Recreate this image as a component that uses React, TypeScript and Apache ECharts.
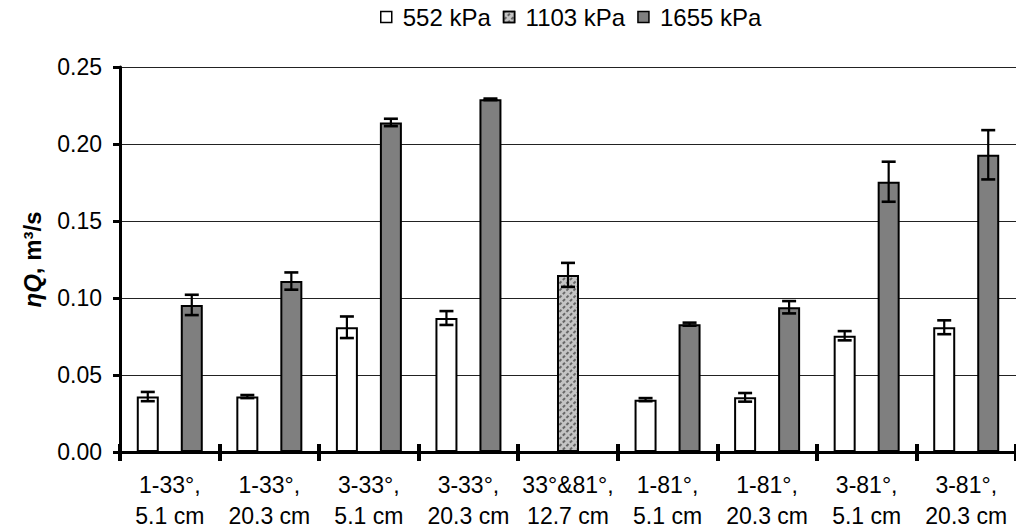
import React, { useEffect, useRef } from "react";
import * as echarts from "echarts";

const categories = [
  "1-33°,\n5.1 cm",
  "1-33°,\n20.3 cm",
  "3-33°,\n5.1 cm",
  "3-33°,\n20.3 cm",
  "33°&81°,\n12.7 cm",
  "1-81°,\n5.1 cm",
  "1-81°,\n20.3 cm",
  "3-81°,\n5.1 cm",
  "3-81°,\n20.3 cm",
];
const seriesNames = ["552 kPa", "1103 kPa", "1655 kPa"];
const v552 = [0.036, 0.036, 0.081, 0.087, null, 0.034, 0.0355, 0.0755, 0.081];
const e552 = [0.003, 0.001, 0.007, 0.0045, null, 0.001, 0.0028, 0.003, 0.0045];
const v1103 = [null, null, null, null, 0.115, null, null, null, null];
const e1103 = [null, null, null, null, 0.0078, null, null, null, null];
const v1655 = [0.0955, 0.111, 0.214, 0.229, null, 0.083, 0.094, 0.1755, 0.193];
const e1655 = [0.0066, 0.0056, 0.0024, 0.0005, null, 0.001, 0.004, 0.013, 0.016];
const yTicks = [0, 0.05, 0.1, 0.15, 0.2, 0.25];

const BAR_W = 22;
const SLOT = 22;
const CAP = 7;
const FONT = "Liberation Sans";

export default function App() {
  const ref = useRef<HTMLDivElement>(null);
  useEffect(() => {
    if (!ref.current) return;
    const chart = echarts.init(ref.current, null, { renderer: "svg" });
    const values = [v552, v1103, v1655];
    const errs = [e552, e1103, e1655];
    const errData: any[] = [];
    values.forEach((arr, s) => {
      arr.forEach((v, i) => {
        if (v != null) errData.push([i, v, errs[s][i], s]);
      });
    });
    const styles = [
      { color: "#ffffff", borderColor: "#000", borderWidth: 2 },
      {
        color: "#c4c4c4",
        borderColor: "#000",
        borderWidth: 2,
        decal: {
          symbol: "rect",
          symbolSize: 1,
          color: "rgba(40,40,40,0.6)",
          dashArrayX: [3, 2],
          dashArrayY: [1.5, 2.5],
          rotation: -Math.PI / 4,
        },
      },
      { color: "#7f7f7f", borderColor: "#000", borderWidth: 2 },
    ];
    chart.setOption({
      animation: false,
      textStyle: { fontFamily: FONT, color: "#000" },
      legend: {
        data: seriesNames,
        top: 0,
        left: 375,
        itemWidth: 11,
        itemHeight: 11,
        itemGap: 12,
        icon: "rect",
        itemStyle: { borderWidth: 1.5, borderColor: "#000" },
        textStyle: { fontSize: 24, color: "#000", fontFamily: FONT, padding: [0, 0, 0, 6] },
      },
      grid: { left: 120, top: 67, width: 901, height: 385 },
      xAxis: [
        {
          type: "category",
          data: categories,
          position: "bottom",
          axisLine: { show: true, lineStyle: { color: "#000", width: 3 } },
          axisTick: { show: true, interval: 0, length: 9, lineStyle: { color: "#000", width: 4 } },
          axisLabel: { interval: 0, fontSize: 23, lineHeight: 31, color: "#000", margin: 17, fontFamily: FONT },
          splitLine: { show: false },
        },
        {
          type: "category",
          data: categories,
          position: "bottom",
          axisLine: { show: false },
          axisTick: { show: true, inside: true, interval: 0, length: 8, lineStyle: { color: "#000", width: 4 } },
          axisLabel: { show: false },
          splitLine: { show: false },
        },
      ],
      yAxis: {
        type: "value",
        min: yTicks[0],
        max: yTicks[yTicks.length - 1],
        interval: 0.05,
        name: "{it|ηQ}, m³/s",
        nameLocation: "middle",
        nameGap: 76,
        nameTextStyle: {
          fontSize: 24,
          fontWeight: "bold",
          color: "#000",
          fontFamily: FONT,
          rich: { it: { fontSize: 24, fontWeight: "bold", fontStyle: "italic", fontFamily: FONT, color: "#000" } },
        },
        axisLine: { show: true, lineStyle: { color: "#000", width: 3 } },
        axisTick: { show: true, length: 7, lineStyle: { color: "#000", width: 3 } },
        axisLabel: {
          fontSize: 23,
          color: "#000",
          margin: 18,
          fontFamily: FONT,
          formatter: (v: number) => v.toFixed(2),
        },
        splitLine: { show: true, lineStyle: { color: "#222", width: 1.2 } },
      },
      series: [
        ...values.map((arr, s) => ({
          name: seriesNames[s],
          type: "bar",
          data: arr,
          barWidth: BAR_W,
          barGap: "0%",
          itemStyle: styles[s],
          z: 2,
        })),
        {
          type: "custom",
          name: "err",
          data: errData,
          encode: { x: 0, y: 1 },
          z: 5,
          renderItem: (params: any, api: any) => {
            const cat = api.value(0);
            const v = api.value(1);
            const e = api.value(2);
            const slot = api.value(3);
            const c = api.coord([cat, v]);
            const t = api.coord([cat, v + e]);
            const b = api.coord([cat, v - e]);
            const x = c[0] + (slot - 1) * SLOT;
            const st = { stroke: "#000", lineWidth: 2.2 };
            return {
              type: "group",
              children: [
                { type: "line", shape: { x1: x, y1: t[1], x2: x, y2: b[1] }, style: st },
                { type: "line", shape: { x1: x - CAP, y1: t[1], x2: x + CAP, y2: t[1] }, style: { stroke: "#000", lineWidth: 2.6 } },
                { type: "line", shape: { x1: x - CAP, y1: b[1], x2: x + CAP, y2: b[1] }, style: { stroke: "#000", lineWidth: 2.6 } },
              ],
            };
          },
        },
      ],
    });
    return () => chart.dispose();
  }, []);
  return (
    <div
      ref={ref}
      style={{ position: "fixed", left: 0, top: 0, width: 1016, height: 531, background: "#fff" }}
    />
  );
}
